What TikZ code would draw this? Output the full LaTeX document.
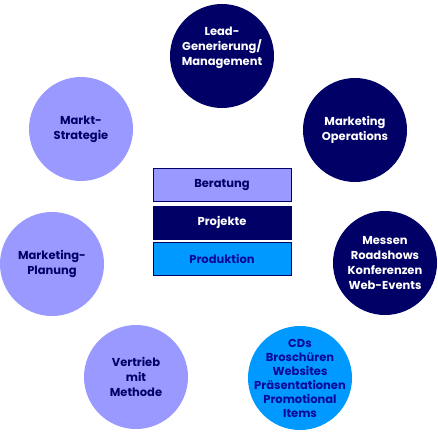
\documentclass[tikz,border=0pt]{standalone}
\usepackage{fontspec}
\setmainfont{Poppins}
\usetikzlibrary{positioning}
\definecolor{lila}{HTML}{9999FF}
\definecolor{nachtblau}{HTML}{000066}
\definecolor{hellblau}{HTML}{0099FF}
\definecolor{textblau}{HTML}{0A0A99}
\begin{document}
\begin{tikzpicture}[x=1pt, y=-1pt, every node/.style={font=\bfseries\fontsize{11.5}{15}\selectfont, align=center}, kreis/.style={circle, minimum size=104pt, inner sep=-20pt}, feld/.style={draw=nachtblau, minimum width=138pt, minimum height=33pt, inner sep=0pt}]
\useasboundingbox (0,0) rectangle (438,433);
\node[kreis, fill=nachtblau, text=white, text depth=19pt] (lead) at (222,56) {Lead-\\Generierung/\\Management};
\node[kreis, fill=nachtblau, text=white] (operations) at (355,130) {Marketing\\Operations};
\node[kreis, fill=nachtblau, text=white] (messen) at (385,263) {Messen\\Roadshows\\Konferenzen\\Web-Events};
\node[kreis, fill=hellblau, text=textblau, font=\bfseries\fontsize{11.5}{14}\selectfont] (medien) at (300,378) {CDs\\Broschüren\\Websites\\Präsentationen\\Promotional\\Items};
\node[kreis, fill=lila, text=nachtblau] (vertrieb) at (136,377) {Vertrieb\\mit\\Methode};
\node[kreis, fill=lila, text=nachtblau] (planung) at (52,264) {Marketing-\\Planung};
\node[kreis, fill=lila, text=nachtblau] (strategie) at (81,129) {Markt-\\Strategie};
\node[feld, fill=lila, text=nachtblau] (beratung) at (222,185) {Beratung};
\node[feld, fill=nachtblau, text=white, below=4pt of beratung] (projekte) {Projekte};
\node[feld, fill=hellblau, text=textblau, below=3pt of projekte] (produktion) {Produktion};
\end{tikzpicture}
\end{document}
